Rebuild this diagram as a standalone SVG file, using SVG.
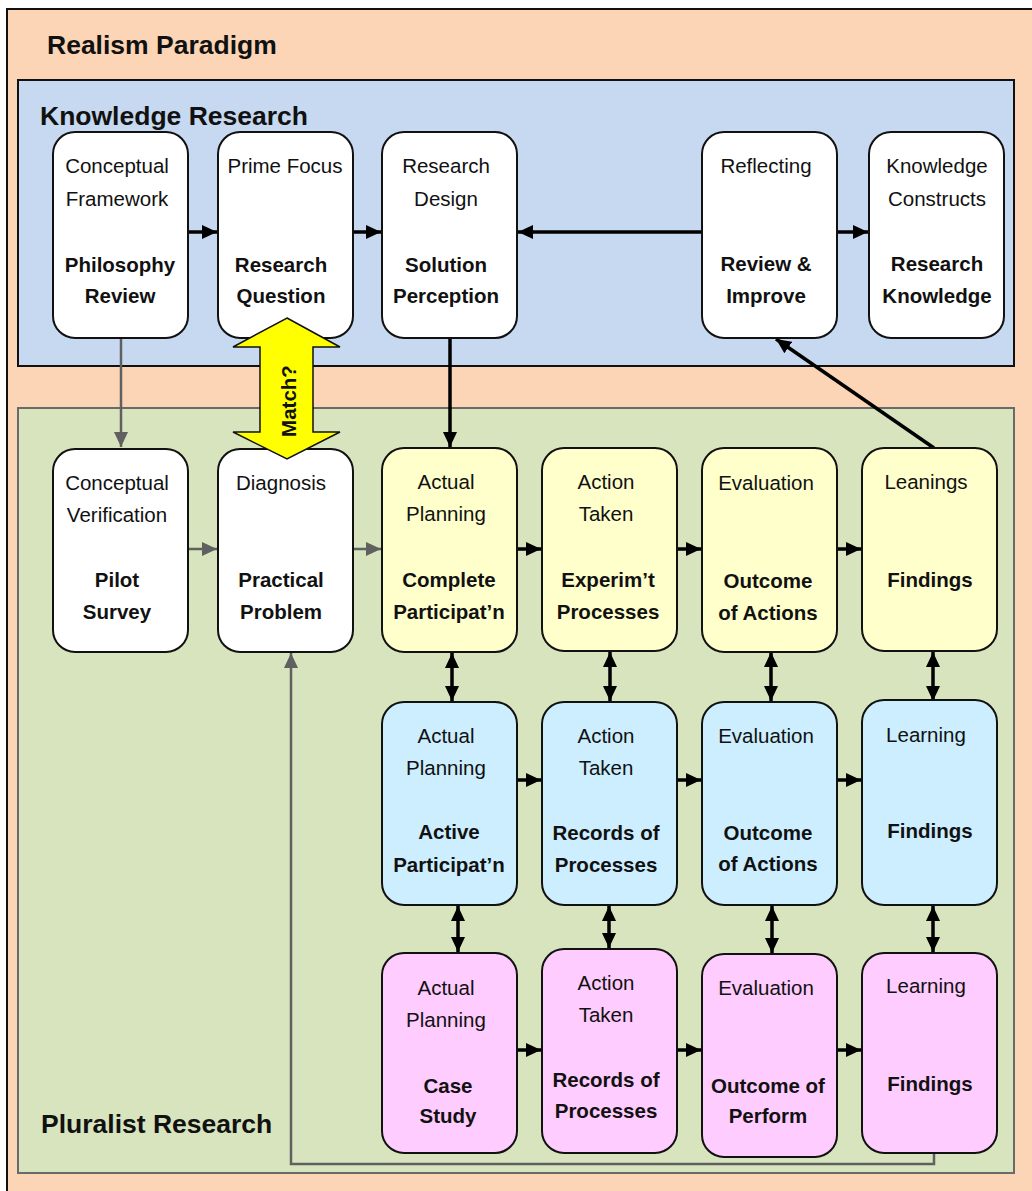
<svg xmlns="http://www.w3.org/2000/svg" width="1032" height="1191" viewBox="0 0 1032 1191">
<defs>
<style>
text{font-family:"Liberation Sans",Arial,sans-serif;fill:#111;text-anchor:middle}
.t{font-size:20.5px}
.b{font-size:20.5px;font-weight:bold}
.h{font-size:26.5px;font-weight:bold;text-anchor:start}
.box{stroke:#111;stroke-width:2}
.w{fill:#fff}.y{fill:#ffffcc}.c{fill:#cceeff}.p{fill:#ffccff}
.k{stroke:#000;stroke-width:3.5;fill:none}
.g{stroke:#606060;stroke-width:2.5;fill:none}
</style>
<marker id="ak" markerUnits="userSpaceOnUse" markerWidth="16" markerHeight="14" refX="15" refY="7" orient="auto-start-reverse"><path d="M0,0 L15,7 L0,14 z" fill="#000"/></marker>
<marker id="ag" markerUnits="userSpaceOnUse" markerWidth="16" markerHeight="14" refX="15" refY="7" orient="auto-start-reverse"><path d="M0,0 L15,7 L0,14 z" fill="#606060"/></marker>
</defs>
<rect x="7" y="9" width="1040" height="1200" fill="#fbd5b5" stroke="#111" stroke-width="2"/>
<text class="h" x="47" y="54">Realism Paradigm</text>
<rect x="18" y="80" width="996" height="286" fill="#c6d9f0" stroke="#111" stroke-width="2"/>
<text class="h" x="40" y="125">Knowledge Research</text>
<rect x="18" y="408" width="996" height="765" fill="#d7e4bd" stroke="#6a6a6a" stroke-width="2"/>
<text class="h" x="41" y="1133">Pluralist Research</text>

<g id="connectors">
<line class="g" x1="121" y1="338" x2="121" y2="447" marker-end="url(#ag)"/>
<line class="g" x1="188" y1="549" x2="217" y2="549" marker-end="url(#ag)"/>
<line class="g" x1="352" y1="549" x2="381" y2="549" marker-end="url(#ag)"/>
<path class="g" d="M934,1153 V1164 H291 V653" marker-end="url(#ag)"/>
<line class="k" x1="188" y1="232" x2="217" y2="232" marker-end="url(#ak)"/>
<line class="k" x1="352" y1="232" x2="381" y2="232" marker-end="url(#ak)"/>
<line class="k" x1="702" y1="232" x2="518" y2="232" marker-end="url(#ak)"/>
<line class="k" x1="837" y1="232" x2="868" y2="232" marker-end="url(#ak)"/>
<line class="k" x1="450" y1="338" x2="450" y2="447" marker-end="url(#ak)"/>
<line class="k" x1="934" y1="448" x2="776" y2="339" marker-end="url(#ak)"/>
<line class="k" x1="517" y1="549" x2="541" y2="549" marker-end="url(#ak)"/>
<line class="k" x1="677" y1="549" x2="701" y2="549" marker-end="url(#ak)"/>
<line class="k" x1="837" y1="549" x2="861" y2="549" marker-end="url(#ak)"/>
<line class="k" x1="517" y1="780" x2="541" y2="780" marker-end="url(#ak)"/>
<line class="k" x1="677" y1="780" x2="701" y2="780" marker-end="url(#ak)"/>
<line class="k" x1="837" y1="780" x2="861" y2="780" marker-end="url(#ak)"/>
<line class="k" x1="517" y1="1050" x2="541" y2="1050" marker-end="url(#ak)"/>
<line class="k" x1="677" y1="1050" x2="701" y2="1050" marker-end="url(#ak)"/>
<line class="k" x1="837" y1="1050" x2="861" y2="1050" marker-end="url(#ak)"/>
<line class="k" x1="452" y1="653" x2="452" y2="701" marker-start="url(#ak)" marker-end="url(#ak)"/>
<line class="k" x1="610" y1="652" x2="610" y2="701" marker-start="url(#ak)" marker-end="url(#ak)"/>
<line class="k" x1="771" y1="652" x2="771" y2="701" marker-start="url(#ak)" marker-end="url(#ak)"/>
<line class="k" x1="933" y1="652" x2="933" y2="701" marker-start="url(#ak)" marker-end="url(#ak)"/>
<line class="k" x1="458" y1="906" x2="458" y2="952" marker-start="url(#ak)" marker-end="url(#ak)"/>
<line class="k" x1="609" y1="906" x2="609" y2="948" marker-start="url(#ak)" marker-end="url(#ak)"/>
<line class="k" x1="772" y1="906" x2="772" y2="953" marker-start="url(#ak)" marker-end="url(#ak)"/>
<line class="k" x1="933" y1="906" x2="933" y2="952" marker-start="url(#ak)" marker-end="url(#ak)"/>
</g>

<g id="n-philosophy"><rect class="box w" x="53" y="132" width="135" height="206" rx="22"/>
<text class="t" x="117" y="173">Conceptual</text><text class="t" x="117" y="206">Framework</text>
<text class="b" x="120" y="272">Philosophy</text><text class="b" x="120" y="303">Review</text></g>
<g id="n-question"><rect class="box w" x="218" y="132" width="135" height="206" rx="22"/>
<text class="t" x="285" y="173">Prime Focus</text>
<text class="b" x="281" y="272">Research</text><text class="b" x="281" y="303">Question</text></g>
<g id="n-solution"><rect class="box w" x="382" y="132" width="135" height="206" rx="22"/>
<text class="t" x="446" y="173">Research</text><text class="t" x="446" y="206">Design</text>
<text class="b" x="446" y="272">Solution</text><text class="b" x="446" y="303">Perception</text></g>
<g id="n-review"><rect class="box w" x="702" y="132" width="135" height="206" rx="22"/>
<text class="t" x="766" y="173">Reflecting</text>
<text class="b" x="766" y="271">Review &amp;</text><text class="b" x="766" y="303">Improve</text></g>
<g id="n-knowledge"><rect class="box w" x="869" y="132" width="135" height="206" rx="22"/>
<text class="t" x="937" y="173">Knowledge</text><text class="t" x="937" y="206">Constructs</text>
<text class="b" x="937" y="271">Research</text><text class="b" x="937" y="303">Knowledge</text></g>

<g id="n-pilot"><rect class="box w" x="53" y="449" width="135" height="203" rx="22"/>
<text class="t" x="117" y="490">Conceptual</text><text class="t" x="117" y="522">Verification</text>
<text class="b" x="117" y="587">Pilot</text><text class="b" x="117" y="619">Survey</text></g>
<g id="n-problem"><rect class="box w" x="218" y="449" width="135" height="203" rx="22"/>
<text class="t" x="281" y="490">Diagnosis</text>
<text class="b" x="281" y="587">Practical</text><text class="b" x="281" y="619">Problem</text></g>
<g id="n-complete"><rect class="box y" x="382" y="448" width="135" height="204" rx="22"/>
<text class="t" x="446" y="489">Actual</text><text class="t" x="446" y="521">Planning</text>
<text class="b" x="449" y="587">Complete</text><text class="b" x="449" y="619">Participat’n</text></g>
<g id="n-experim"><rect class="box y" x="542" y="448" width="135" height="203" rx="22"/>
<text class="t" x="606" y="489">Action</text><text class="t" x="606" y="521">Taken</text>
<text class="b" x="608" y="587">Experim’t</text><text class="b" x="608" y="619">Processes</text></g>
<g id="n-outcome1"><rect class="box y" x="702" y="448" width="135" height="204" rx="22"/>
<text class="t" x="766" y="490">Evaluation</text>
<text class="b" x="768" y="588">Outcome</text><text class="b" x="768" y="620">of Actions</text></g>
<g id="n-findings1"><rect class="box y" x="862" y="448" width="135" height="203" rx="22"/>
<text class="t" x="926" y="489">Leanings</text>
<text class="b" x="930" y="587">Findings</text></g>

<g id="n-active"><rect class="box c" x="382" y="702" width="135" height="203" rx="22"/>
<text class="t" x="446" y="743">Actual</text><text class="t" x="446" y="775">Planning</text>
<text class="b" x="449" y="839">Active</text><text class="b" x="449" y="872">Participat’n</text></g>
<g id="n-records1"><rect class="box c" x="542" y="702" width="135" height="203" rx="22"/>
<text class="t" x="606" y="743">Action</text><text class="t" x="606" y="775">Taken</text>
<text class="b" x="606" y="840">Records of</text><text class="b" x="606" y="872">Processes</text></g>
<g id="n-outcome2"><rect class="box c" x="702" y="702" width="135" height="203" rx="22"/>
<text class="t" x="766" y="743">Evaluation</text>
<text class="b" x="768" y="840">Outcome</text><text class="b" x="768" y="871">of Actions</text></g>
<g id="n-findings2"><rect class="box c" x="862" y="700" width="135" height="205" rx="22"/>
<text class="t" x="926" y="742">Learning</text>
<text class="b" x="930" y="838">Findings</text></g>

<g id="n-case"><rect class="box p" x="382" y="953" width="135" height="200" rx="22"/>
<text class="t" x="446" y="995">Actual</text><text class="t" x="446" y="1027">Planning</text>
<text class="b" x="448" y="1093">Case</text><text class="b" x="448" y="1123">Study</text></g>
<g id="n-records2"><rect class="box p" x="542" y="949" width="135" height="204" rx="22"/>
<text class="t" x="606" y="990">Action</text><text class="t" x="606" y="1022">Taken</text>
<text class="b" x="606" y="1087">Records of</text><text class="b" x="606" y="1118">Processes</text></g>
<g id="n-perform"><rect class="box p" x="702" y="954" width="135" height="203" rx="22"/>
<text class="t" x="766" y="995">Evaluation</text>
<text class="b" x="768" y="1093">Outcome of</text><text class="b" x="768" y="1123">Perform</text></g>
<g id="n-findings3"><rect class="box p" x="862" y="953" width="135" height="200" rx="22"/>
<text class="t" x="926" y="993">Learning</text>
<text class="b" x="930" y="1091">Findings</text></g>

<g id="n-match"><polygon points="287,318 340,347 313,347 313,432 340,432 287,459 233,432 260,432 260,347 233,347" fill="#ffff00" stroke="#111" stroke-width="1.5"/>
<text class="b" transform="translate(296,401) rotate(-90)">Match?</text></g>
</svg>
